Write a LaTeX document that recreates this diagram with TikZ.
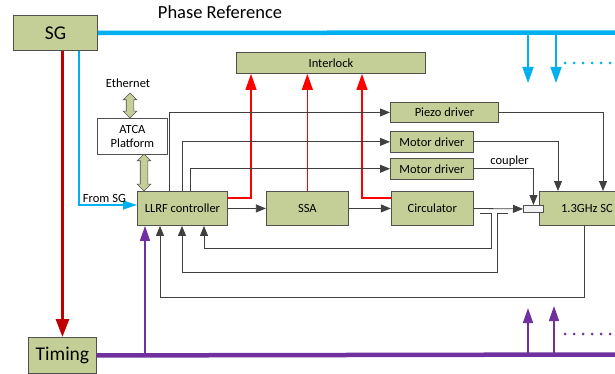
\documentclass[tikz,border=0pt]{standalone}
\usepackage{fontspec}
\setmainfont{Carlito}
\usetikzlibrary{arrows.meta, positioning, shapes.arrows}

\definecolor{boxfill}{HTML}{C4CF98}
\definecolor{boxline}{HTML}{505050}
\definecolor{phase}{HTML}{00B0F0}
\definecolor{trig}{HTML}{7030A0}
\definecolor{sgred}{HTML}{C00000}
\definecolor{ilk}{HTML}{FF0000}
\definecolor{sig}{HTML}{404040}

\begin{document}
\begin{tikzpicture}[x=1pt, y=-1pt, font=\fontsize{12.5}{14}\selectfont,
	>={Triangle[length=10pt, width=8pt]},
	blk/.style={draw=boxline, line width=0.9pt, fill=boxfill, inner sep=0pt, anchor=north west},
	big/.style={font=\fontsize{19.5}{22}\selectfont},
	dbl/.style={double arrow, rotate=90, draw=boxline, line width=0.7pt, fill=boxfill, inner sep=3.5pt,
		double arrow head extend=3pt, double arrow head indent=0pt},
	sig/.style={draw=sig, line width=0.8pt},
	phs/.style={draw=phase, line width=4.5pt},
	phthin/.style={draw=phase, line width=1.2pt, -{Triangle[length=14pt, width=9pt]}},
	phdrop/.style={draw=phase, line width=1.5pt, -{Triangle[length=16pt, width=11pt]}},
	trg/.style={draw=trig, line width=4.5pt},
	trgup/.style={draw=trig, line width=1.5pt, -{Triangle[length=15pt, width=10pt]}},
	sgr/.style={draw=sgred, line width=2.8pt, -{Triangle[length=18pt, width=13pt]}},
	ilkln/.style={draw=ilk, line width=1.3pt, -{Triangle[length=16pt, width=11pt]}},
	dots/.style={line width=3pt, line cap=round, dash pattern=on 0pt off 9pt}]
	\useasboundingbox (0,0) rectangle (615,374);
	\clip (0,0) rectangle (615,374);

	% sources
	\node[blk, big, minimum width=84pt, minimum height=35pt] (sg) at (13,15) {SG};
	\node[blk, big, minimum width=68pt, minimum height=36pt] (timing) at (28,337) {Timing};
	\node[font=\fontsize{18.5}{22}\selectfont] (phref) at (220,12) {Phase Reference};

	% control rack
	\node (eth) at (128,83) {Ethernet};
	\node[blk, fill=white, align=center, minimum width=70pt, minimum height=36pt] (atca) at (97,118) {ATCA\\Platform};
	\node[dbl, minimum height=25pt] (ethlink) at (130,105.5) {};
	\node[dbl, minimum height=37pt] (atlink) at (144,172.5) {};

	% rf chain
	\node[blk, minimum width=90pt, minimum height=34pt] (llrf) at (137,191) {LLRF controller};
	\node[blk, minimum width=82pt, minimum height=34pt] (ssa) [right=38pt of llrf] {SSA};
	\node[blk, minimum width=82pt, minimum height=34pt] (circ) [right=42pt of ssa] {Circulator};
	\node[blk, minimum width=95pt, minimum height=34pt] (sc) at (539,191) {1.3GHz SC};
	\node[blk, fill=black!5, minimum width=20pt, minimum height=7pt] (cpl) at (523,205) {};

	% interlock and drivers
	\node[blk, minimum width=189pt, minimum height=21pt] (intlk) at (236,52) {Interlock};
	\node[blk, minimum width=108pt, minimum height=20pt] (piezo) at (390,102) {Piezo driver};
	\node[blk, minimum width=83pt, minimum height=21pt] (mdrv1) [below right=8pt and 0pt of piezo.south west] {Motor driver};
	\node[blk, minimum width=83pt, minimum height=21pt] (mdrv2) [below=5pt of mdrv1] {Motor driver};

	% free ends
	\coordinate (phend) at (620,32.5);
	\coordinate (trend) at (620,354.5);
	\coordinate (pd1) at (528,35);
	\coordinate (pd2) at (556,35);
	\coordinate (pdots) at (565,63);
	\coordinate (tu1) at (528,354);
	\coordinate (tu2) at (554,354);
	\coordinate (tdots) at (565,334);
	\coordinate (fwd) at (480,213);
	\coordinate (rfl) at (508,213);

	% phase reference and timing
	\draw[phs] (sg.east) -- (phend);
	\draw[phdrop] (pd1) -- ++(0,48);
	\draw[phdrop] (pd2) -- ++(0,48);
	\draw[dots, draw=phase] (pdots) -- ++(55,0);
	\draw[trg] (timing.east) -- (trend);
	\draw[trgup] (tu1) -- ++(0,-46);
	\draw[trgup] (tu2) -- ++(0,-48);
	\draw[dots, draw=trig] (tdots) -- ++(55,0);
	\draw[sgr] (timing.north |- sg.south) -- (timing.north);
	\draw[phthin] ([xshift=-19pt]sg.south east) |- node[pos=0.72, above, inner sep=1.5pt] {From SG} ([yshift=-14pt]llrf.north west);
	\draw[trgup] ([xshift=8pt]llrf.south west |- timing.east) -- ([xshift=8pt]llrf.south west);

	% interlock inputs
	\draw[ilkln] ([yshift=-7pt]llrf.north east) -| ([xshift=15pt]intlk.south west);
	\draw[ilkln] (ssa.north) -- (ssa.north |- intlk.south);
	\draw[ilkln] ([yshift=-7pt]circ.north west) -| ([xshift=126pt]intlk.south west);

	% tuner control
	\draw[sig, ->] ([xshift=32pt]llrf.north west) |- (piezo.west);
	\draw[sig, ->] ([xshift=45pt]llrf.north west) |- (mdrv1.west);
	\draw[sig, ->] ([xshift=53pt]llrf.north west) |- (mdrv2.west);
	\draw[sig, ->] (piezo.east) -| ([xshift=64pt]sc.north west);
	\draw[sig, ->] (mdrv1.east) -| ([xshift=19pt]sc.north west);
	\draw[sig, ->] (mdrv2.east) -| node[pos=0.3, above, inner sep=1.5pt] {coupler} (cpl.north);

	% forward path
	\draw[sig, ->] (llrf) -- (ssa);
	\draw[sig, ->] (ssa) -- (circ);
	\draw[sig, ->] (circ.east) -- (cpl.west);

	% pickups back to the controller
	\draw[sig, ->] (fwd) -| ++(11,35) -| ([xshift=67pt]llrf.south west);
	\draw[sig, ->] (rfl) -| ++(-11,59) -| ([xshift=45pt]llrf.south west);
	\draw[sig, ->] ([xshift=45pt]sc.south west) -- ++(0,71) -| ([xshift=23pt]llrf.south west);
\end{tikzpicture}
\end{document}
